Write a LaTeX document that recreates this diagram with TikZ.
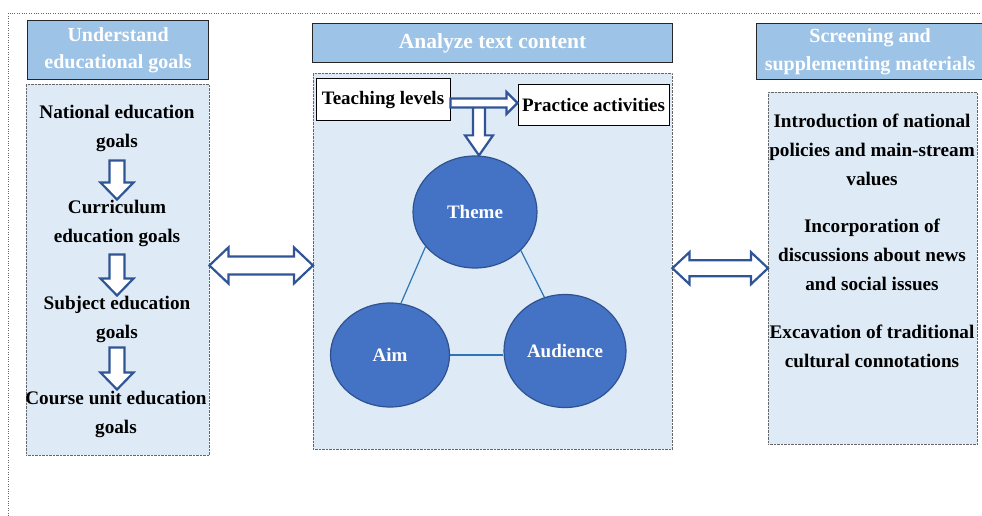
\documentclass[tikz,border=0pt]{standalone}
\usepackage{fontspec}
\setmainfont{Liberation Serif}
\usetikzlibrary{calc,positioning,shapes.geometric}

\definecolor{headfill}{HTML}{9DC3E6}
\definecolor{panelfill}{HTML}{DEEBF7}
\definecolor{circfill}{HTML}{4472C4}
\definecolor{circline}{HTML}{2F528F}
\definecolor{blockline}{HTML}{2F5597}
\definecolor{linkblue}{HTML}{2E75B6}

% hollow block arrows: #1 from, #2 to, #3 shaft half, #4 head half, #5 head length
\newcommand\vblock[5]{%
  \draw[blockarrow] let \p1=#1, \p2=#2 in
    (\x1-#3,\y1) -- (\x1+#3,\y1) -- (\x1+#3,\y2+#5) -- (\x1+#4,\y2+#5)
    -- (\x1,\y2) -- (\x1-#4,\y2+#5) -- (\x1-#3,\y2+#5) -- cycle;}
\newcommand\hblock[5]{%
  \draw[blockarrow] let \p1=#1, \p2=#2 in
    (\x1,\y1+#3) -- (\x2-#5,\y1+#3) -- (\x2-#5,\y1+#4) -- (\x2,\y1)
    -- (\x2-#5,\y1-#4) -- (\x2-#5,\y1-#3) -- (\x1,\y1-#3) -- cycle;}
\newcommand\dblock[5]{%
  \draw[blockarrow] let \p1=#1, \p2=#2, \p3=($#1!.5!#2$) in
    (\x1,\y3) -- (\x1+#5,\y3+#4) -- (\x1+#5,\y3+#3) -- (\x2-#5,\y3+#3)
    -- (\x2-#5,\y3+#4) -- (\x2,\y3) -- (\x2-#5,\y3-#4) -- (\x2-#5,\y3-#3)
    -- (\x1+#5,\y3-#3) -- (\x1+#5,\y3-#4) -- cycle;}

\begin{document}
\begin{tikzpicture}[x=1pt,y=-1pt,
    blockarrow/.style={draw=blockline,fill=white,line width=2.2pt,line join=miter},
    header/.style={rectangle,draw=black!85,line width=1.2pt,fill=headfill,text=white,anchor=north west,align=center,
      font=\fontsize{20}{27.5}\selectfont\bfseries},
    panel/.style={rectangle,draw=black!60,densely dotted,fill=panelfill,anchor=north west},
    label/.style={align=center,inner sep=0pt,font=\fontsize{19.2}{29}\selectfont\bfseries},
    topic/.style={ellipse,draw=circline,line width=1.2pt,fill=circfill,text=white,inner sep=0pt,
      font=\fontsize{19}{22}\selectfont\bfseries}]
  \clip (0,0) rectangle (982,516);

  % outer frame
  \draw[black!60,dotted] (982,13) -- (8,13) -- (8,516);

  % headers
  \node[header,minimum width=181,minimum height=59] (goalshead) at (27,20) {Understand\\educational goals};
  \node[header,minimum width=360,minimum height=39,font=\fontsize{21.5}{26}\selectfont\bfseries] (texthead) at (312,23) {Analyze text content};
  \node[header,minimum width=227,minimum height=56] (materialhead) at (756,23) {Screening and\\supplementing materials};

  % panels
  \node[panel,minimum width=183,minimum height=371] (goalsbox) at (26,84) {};
  \node[panel,minimum width=359,minimum height=376] (textbox) at (313,73) {};
  \node[panel,minimum width=209,minimum height=352] (materialbox) at (768,92) {};

  % left column
  \begin{scope}[every node/.style={label}]
    \node (national) at (117,128) {National education\\goals};
    \node (curriculum) at (117,223) {Curriculum\\education goals};
    \node (subject) at (117,319) {Subject education\\goals};
    \node (course) at (116,414) {Course unit education\\goals};
  \end{scope}
  \vblock{([yshift=-9pt]national.south)}{(curriculum.north)}{7.5pt}{16.5pt}{17pt}
  \vblock{([yshift=-8pt]curriculum.south)}{(subject.north)}{7.5pt}{16.5pt}{17pt}
  \vblock{([yshift=-5pt]subject.south)}{([yshift=1pt]course.north)}{7.5pt}{16.5pt}{17pt}

  % right column
  \begin{scope}[every node/.style={label}]
    \node (policies) at (872,150) {Introduction of national\\policies and main-stream\\values};
    \node (news) at (872,255) {Incorporation of\\discussions about news\\and social issues};
    \node (culture) at (872,346) {Excavation of traditional\\cultural connotations};
  \end{scope}

  % middle
  \begin{scope}[every node/.style={rectangle,draw=black,line width=1pt,fill=white,inner sep=0pt,
      font=\fontsize{19}{22}\selectfont\bfseries}]
    \node[minimum width=134,minimum height=42] (levels) at (383,100) {Teaching levels};
    \node[minimum width=151,minimum height=41] (practice) at (593.5,105) {Practice activities};
  \end{scope}
  \node[topic,minimum width=124,minimum height=112] (theme) at (475,212) {Theme};
  \node[topic,minimum width=119,minimum height=104] (aim) at (390,355) {Aim};
  \node[topic,minimum width=122,minimum height=113] (audience) at (565,351) {Audience};

  \begin{scope}[linkblue,line width=1.2pt]
    \draw (theme.215) -- (aim.78);
    \draw (theme.320) -- (audience.111);
    \draw (aim.east) -- (aim.east -| audience.west);
  \end{scope}

  \coordinate (tjoin) at (479,106);
  \vblock{(tjoin)}{(tjoin |- theme.north)}{6pt}{14pt}{20pt}
  \hblock{([yshift=-3pt]levels.east)}{(practice.west)}{4.5pt}{11pt}{11pt}

  % links between columns
  \dblock{(goalsbox.east)}{(textbox.west)}{9pt}{18pt}{19pt}
  \dblock{([yshift=-7pt]textbox.east)}{(materialbox.west)}{8pt}{16pt}{17pt}
\end{tikzpicture}
\end{document}
